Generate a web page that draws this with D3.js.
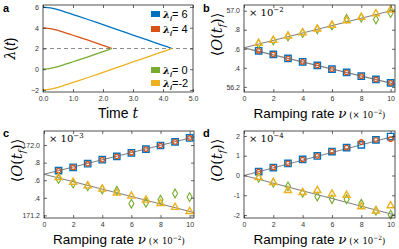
<!DOCTYPE html>
<html><head><meta charset="utf-8">
<script src="https://cdn.jsdelivr.net/npm/d3@7"></script>
<style>body{margin:0;background:#fff}svg{display:block}</style>
</head><body>
<script>
// ---- Panel a data ----
const tLong = [0,0.25,0.5,0.75,1,1.5,2,2.5,3,3.5,4,4.3];
const tShort = [0,0.25,0.5,0.75,1,1.5,2,2.3];
const lamBlue   = [6,5.92,5.75,5.52,5.28,4.8,4.3,3.8,3.3,2.8,2.3,2.0];
const lamYellow = [-2,-1.92,-1.75,-1.52,-1.28,-0.8,-0.3,0.2,0.7,1.2,1.7,2.0];
const lamOrange = [4,3.92,3.75,3.52,3.28,2.8,2.3,2.0];
const lamGreen  = [0,0.08,0.25,0.48,0.72,1.2,1.7,2.0];
const legendLabels = ["6","4","0","-2"];
const aXTicks = [0,1,2,3,4,5];
const aYTicks = [-2,0,2,4,6];

// ---- Panels b,c,d data (ν in units of 1e-2) ----
const nu = [1,2,3,4,5,6,7,8,9,10];
const fitNu = [0,10.3];
const bSquare   = [56.579,56.541,56.499,56.463,56.425,56.386,56.352,56.313,56.278,56.242];
const bCircle   = [56.579,56.541,56.499,56.463,56.425,56.386,56.352,56.313,56.278,56.242];
const bTriangle = [56.657,56.689,56.734,56.769,56.808,56.847,56.895,56.931,56.969,57.008];
const bDiamond  = [56.652,56.686,56.730,56.765,56.804,56.845,56.915,56.925,56.908,56.975];
const bFitUp = [56.61,57.01];
const bFitDn = [56.61,56.229];
const bYTicks = [56.2,56.4,56.6,56.8,57.0];
const bYLabels = ["56.2",".4",".6",".8","57.0"];

const cSquare   = [171.709,171.747,171.788,171.833,171.871,171.912,171.954,171.995,172.036,172.081];
const cCircle   = [171.709,171.747,171.788,171.833,171.871,171.912,171.954,171.995,172.036,172.081];
const cTriangle = [171.630,171.578,171.536,171.499,171.454,171.420,171.374,171.336,171.291,171.245];
const cDiamond  = [171.612,171.562,171.530,171.495,171.480,171.333,171.344,171.378,171.449,171.408];
const cFitUp = [171.668,172.092];
const cFitDn = [171.668,171.232];
const cYTicks = [171.2,171.4,171.6,171.8,172.0];
const cYLabels = ["171.2",".4",".6",".8","172.0"];

const dSquare   = [0.20,0.40,0.61,0.81,0.99,1.21,1.41,1.55,1.80,1.97];
const dCircle   = [0.20,0.40,0.61,0.81,0.99,1.21,1.41,1.69,1.80,1.84];
const dTriangle = [-0.10,-0.35,-0.76,-0.86,-0.76,-0.94,-1.00,-1.58,-1.80,-1.53];
const dDiamond  = [-0.12,-0.37,-0.55,-0.88,-1.06,-1.20,-1.20,-1.43,-1.78,-1.98];
const dFitUp = [0,2.0];
const dFitDn = [0,-2.0];
const dYTicks = [-2,-1,0,1,2];
const dYLabels = ["-2","-1","0","1","2"];
const nuTicks = [0,2,4,6,8,10];

const C = {blue:"#0072BD", orange:"#D95319", yellow:"#EDB120", green:"#77AC30", fit:"#7f7f7f"};

const W = 399, H = 249;
const svg = d3.select("body").append("svg").attr("width",W).attr("height",H)
  .style("font-family","Liberation Sans, Arial, sans-serif");

function frame(g, x, y, xt, yt, ylab) {
  const [x0,x1] = x.range(), [y0,y1] = y.range();
  const tl = 3;
  const axB = d3.axisBottom(x).tickValues(xt).tickSize(-tl).tickPadding(4);
  const axT = d3.axisTop(x).tickValues(xt).tickSize(-tl).tickFormat("");
  const axL = d3.axisLeft(y).tickValues(yt).tickSize(-tl).tickPadding(4);
  const axR = d3.axisRight(y).tickValues(yt).tickSize(-tl).tickFormat("");
  if (ylab) axL.tickFormat((d,i)=>ylab[i]);
  const st = s => s.call(a=>{a.select(".domain").remove(); a.selectAll("line").attr("stroke","#262626").attr("stroke-width",0.7); a.selectAll("text").attr("fill","#333").style("font-size","7px").style("font-family","Liberation Sans, Arial, sans-serif");});
  g.append("g").attr("transform",`translate(0,${y0})`).call(axB).call(st);
  g.append("g").attr("transform",`translate(0,${y1})`).call(axT).call(st);
  g.append("g").attr("transform",`translate(${x0},0)`).call(axL).call(st);
  g.append("g").attr("transform",`translate(${x1},0)`).call(axR).call(st);
  g.append("rect").attr("x",x0).attr("y",y1).attr("width",x1-x0).attr("height",y0-y1)
    .attr("fill","none").attr("stroke","#262626").attr("stroke-width",0.8);
}

function panelLetter(t,x,y){
  svg.append("text").attr("x",x).attr("y",y).text(t).style("font-weight","bold").style("font-size","11px");
}

// ---------- Panel a ----------
{
  const g = svg.append("g");
  const x = d3.scaleLinear().domain([0,5]).range([43,193]);
  const y = d3.scaleLinear().domain([-2.2,6.2]).range([92,5]);
  g.append("line").attr("x1",x(0)).attr("x2",x(5)).attr("y1",y(2)).attr("y2",y(2))
    .attr("stroke","#8c8c8c").attr("stroke-width",1).attr("stroke-dasharray","4,3");
  const line = d3.line().x(d=>x(d[0])).y(d=>y(d[1])).curve(d3.curveMonotoneX);
  const series = [[tLong,lamBlue,C.blue],[tShort,lamOrange,C.orange],[tShort,lamGreen,C.green],[tLong,lamYellow,C.yellow]];
  series.forEach(([t,v,c])=>g.append("path").attr("d",line(t.map((d,i)=>[d,v[i]]))).attr("fill","none").attr("stroke",c).attr("stroke-width",1.3));
  frame(g,x,y,aXTicks,aYTicks);
  const legY = [14,29,70,83], legC = [C.blue,C.orange,C.green,C.yellow];
  legendLabels.forEach((l,i)=>{
    g.append("rect").attr("x",151).attr("y",legY[i]-3).attr("width",9).attr("height",6).attr("fill",legC[i]);
    const t = g.append("text").attr("x",163).attr("y",legY[i]+4).style("font-size","11px").style("font-weight","bold");
    t.append("tspan").text("λ").style("font-style","italic").style("font-family","DejaVu Serif, serif").style("font-size","10px");
    t.append("tspan").text("i").style("font-size","7px").attr("dy",2.5).style("font-style","italic");
    t.append("tspan").text(i===3 ? "=" + l : "= " + l).attr("dy",-2.5).style("font-weight","normal");
  });
  const yl = g.append("text").attr("transform",`translate(15,${y(2)}) rotate(-90)`).attr("text-anchor","middle")
    .style("font-size","14px");
  yl.append("tspan").text("λ").style("font-style","italic").style("font-family","DejaVu Serif, serif");
  yl.append("tspan").text("(");
  yl.append("tspan").text("t").style("font-style","italic");
  yl.append("tspan").text(")");
  const xl = g.append("text").attr("x",118).attr("y",118).attr("text-anchor","middle").style("font-size","14px");
  xl.append("tspan").text("Time ");
  xl.append("tspan").text("t").style("font-style","italic").style("font-family","DejaVu Serif, serif");
  panelLetter("a",3,12);
}

function nuPanel(ox, oy, xr, yr, yd, ylab, yt, sq, ci, tr, di, fu, fd, exp, letter) {
  const g = svg.append("g");
  const x = d3.scaleLinear().domain([0,10.3]).range(xr);
  const y = d3.scaleLinear().domain(yd).range(yr);
  g.append("clipPath").attr("id","cl"+letter).append("rect").attr("x",xr[0]).attr("y",yr[1]).attr("width",xr[1]-xr[0]).attr("height",yr[0]-yr[1]);
  const fl = d3.line().x(d=>x(d[0])).y(d=>y(d[1]));
  [fu,fd].forEach(f=>g.append("path").attr("d",fl(fitNu.map((n,i)=>[n,f[i]]))).attr("stroke",C.fit).attr("stroke-width",1.1).attr("fill","none").attr("clip-path",`url(#cl${letter})`));
  const sym = (type,size)=>d3.symbol().type(type).size(size)();
  const pts = (vals,type,size,col,sw)=>g.append("g").selectAll("path").data(vals).join("path")
      .attr("transform",(d,i)=>`translate(${x(nu[i])},${y(d)})`).attr("d",sym(type,size))
      .attr("fill","none").attr("stroke",col).attr("stroke-width",sw);
  pts(sq,d3.symbolSquare,40,C.blue,1.4);
  pts(ci,d3.symbolCircle,16,C.orange,1.4);
  pts(di,d3.symbolDiamond,22,C.green,1.1);
  pts(tr,d3.symbolTriangle,22,C.yellow,1.4);
  frame(g,x,y,nuTicks,yt,ylab);
  const et = g.append("text").attr("x",xr[0]+5).attr("y",yr[1]+11).style("font-size","10px").style("font-family","DejaVu Serif, serif");
  et.append("tspan").text("× 10");
  et.append("tspan").text(exp).attr("dy",-4).style("font-size","7px");
  const cx = (xr[0]+xr[1])/2;
  const xl = g.append("text").attr("x",cx).attr("y",yr[0]+26).attr("text-anchor","middle").style("font-size","13.5px");
  xl.append("tspan").text("Ramping rate ");
  xl.append("tspan").text("ν").style("font-style","italic").style("font-family","DejaVu Serif, serif");
  xl.append("tspan").text(" (× 10").style("font-size","8.5px").style("font-family","DejaVu Serif, serif");
  xl.append("tspan").text("−2").style("font-size","6px").attr("dy",-4).style("font-family","DejaVu Serif, serif");
  xl.append("tspan").text(")").style("font-size","8.5px").attr("dy",4).style("font-family","DejaVu Serif, serif");
  const yl = g.append("text").attr("transform",`translate(${xr[0]-22},${(yr[0]+yr[1])/2 - 14}) rotate(-90)`).attr("text-anchor","middle")
    .style("font-size","14.5px").style("font-family","DejaVu Serif, serif");
  yl.append("tspan").text("⟨");
  yl.append("tspan").text("O").style("font-style","italic");
  yl.append("tspan").text("(");
  yl.append("tspan").text("t").style("font-style","italic");
  yl.append("tspan").text("f").style("font-style","italic").style("font-size","9px").attr("dy",3);
  yl.append("tspan").text(")⟩").attr("dy",-3);
  panelLetter(letter, ox+3, oy+12);
}

nuPanel(200,0,[244,395],[92,5],[56.146,57.06],bYLabels,bYTicks,bSquare,bCircle,bTriangle,bDiamond,bFitUp,bFitDn,"−2","b");
nuPanel(0,125,[44,194],[218,131],[171.17,172.16],cYLabels,cYTicks,cSquare,cCircle,cTriangle,cDiamond,cFitUp,cFitDn,"−3","c");
nuPanel(200,125,[244,395],[218,131],[-2.15,2.25],dYLabels,dYTicks,dSquare,dCircle,dTriangle,dDiamond,dFitUp,dFitDn,"−4","d");
</script>
</body></html>
